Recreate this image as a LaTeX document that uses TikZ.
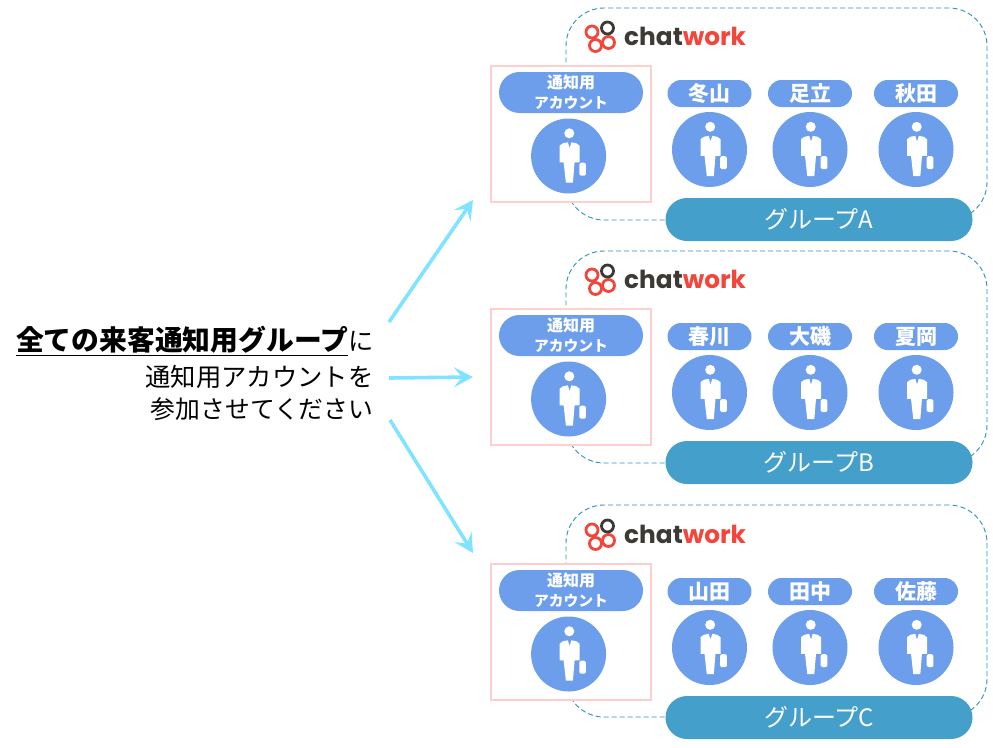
\documentclass[tikz,border=0pt]{standalone}
\usepackage{fontspec}
\newfontfamily\cjk{Noto Sans CJK JP}
\newfontfamily\logofont{Poppins}
\usetikzlibrary{arrows.meta,shapes.misc}
\definecolor{pillblue}{HTML}{6C9EEB}
\definecolor{barblue}{HTML}{449FCA}
\definecolor{dashblue}{HTML}{2F8FC0}
\definecolor{boxpink}{HTML}{FFCFCF}
\definecolor{arrowcyan}{HTML}{80E3FF}
\definecolor{logored}{HTML}{F2463C}
\definecolor{logodark}{HTML}{3D3A35}
\tikzset{
  personfig/.pic = {
    \fill[white] (0.7,-22.7) circle (5);
    \fill[white] (-9,-10.3) -- (-5.7,-12.7) -- (-0.7,-13.7) -- (1,-7.7) -- (2.7,-13.7) -- (7.7,-12.7) -- (11,-10.3) -- (11,6.3) -- (6,6.3) -- (4.3,26.7) -- (-2.7,26.7) -- (-5,6.3) -- (-9,6.3) -- cycle;
    \fill[white, rounded corners=1.5] (10.7,6.7) rectangle (17.3,19.7);
  },
  chatworklogo/.pic = {
    \draw[logored, line width=2.8] (-9,-5) circle (6);
    \draw[logored, line width=2.8] (-5.5,8.5) circle (6);
    \draw[logored, line width=2.8] (7.5,5.5) circle (6);
    \draw[logodark, line width=2.8] (6.5,-9) circle (6);
    \node[anchor=west, inner sep=0, font=\logofont\bfseries\fontsize{24.8}{26}\selectfont] (w) at (23,-1) {\textcolor{logodark}{chat}\textcolor{logored}{work}};
  }
}
\begin{document}
\begin{tikzpicture}[x=1pt, y=-1pt,
  frame/.style = {draw=dashblue, dashed, dash pattern=on 5pt off 3pt, line width=0.9pt, rounded corners=38pt, minimum width=421pt, minimum height=212pt, inner sep=0},
  acct/.style = {draw=boxpink, line width=1.2pt, fill=white, minimum width=160pt, minimum height=136pt, inner sep=0},
  pill/.style = {rounded rectangle, fill=pillblue, text=white, inner sep=0, font=\cjk\bfseries\fontsize{21}{21}\selectfont, minimum width=84pt, minimum height=27pt},
  bigpill/.style = {pill, align=center, font=\cjk\bfseries\fontsize{16}{20}\selectfont, minimum width=144pt, minimum height=41pt},
  person/.style = {circle, fill=pillblue, inner sep=0, minimum size=75pt},
  bar/.style = {rounded rectangle, fill=barblue, text=white, inner sep=0, font=\cjk\fontsize{24}{24}\selectfont, minimum width=307pt, minimum height=43pt},
  msg/.style = {align=right, anchor=east, inner sep=0, font=\cjk\fontsize{25.3}{32}\selectfont},
  link/.style = {draw=arrowcyan, line width=3.6pt, -{Stealth[length=19pt, width=20pt, inset=8pt]}}]
\useasboundingbox (0,0) rectangle (993,747);

% left text
\node[msg] (msg) at (373.5,373.5) {\underline{\bfseries\fontsize{27.8}{32}\selectfont 全ての来客通知用グループ}に\\[4pt]通知用アカウントを\\{\fontsize{24.8}{32}\selectfont 参加させてください}};

% group A
\node[frame] (fa) at (776.5,114) {};
\node[acct] (ba) at (571,134) {};
\node[bigpill] (ha) at (571,92.5) {通知用\\{\fontsize{14.8}{20}\selectfont アカウント}};
\node[person] (ua) at (568.6,156) {};
\pic at (ua) {personfig};
\pic at (601,37) {chatworklogo};
\node[pill] (a1) at (709.5,93.5) {冬山};
\node[pill, right of=a1, node distance=100.5pt] (a2) {足立};
\node[pill, right of=a2, node distance=106pt] (a3) {秋田};
\node[person, below of=a1, node distance=56pt] (pa1) {};
\node[person, below of=a2, node distance=56pt] (pa2) {};
\node[person, below of=a3, node distance=56pt] (pa3) {};
\pic at (pa1) {personfig};
\pic at (pa2) {personfig};
\pic at (pa3) {personfig};
\node[bar] (ga) at (819,219.5) {グループA};

% group B
\node[frame] (fb) at (776.5,357) {};
\node[acct] (bb) at (571,377) {};
\node[bigpill] (hb) at (571,335.5) {通知用\\{\fontsize{14.8}{20}\selectfont アカウント}};
\node[person] (ub) at (568.6,399) {};
\pic at (ub) {personfig};
\pic at (601,280) {chatworklogo};
\node[pill] (b1) at (709.5,336.5) {春川};
\node[pill, right of=b1, node distance=100.5pt] (b2) {大磯};
\node[pill, right of=b2, node distance=106pt] (b3) {夏岡};
\node[person, below of=b1, node distance=56pt] (pb1) {};
\node[person, below of=b2, node distance=56pt] (pb2) {};
\node[person, below of=b3, node distance=56pt] (pb3) {};
\pic at (pb1) {personfig};
\pic at (pb2) {personfig};
\pic at (pb3) {personfig};
\node[bar] (gb) at (819,462.5) {グループB};

% group C
\node[frame] (fc) at (776.5,611) {};
\node[acct] (bc) at (571,632) {};
\node[bigpill] (hc) at (571,590.5) {通知用\\{\fontsize{14.8}{20}\selectfont アカウント}};
\node[person] (uc) at (568.6,654) {};
\pic at (uc) {personfig};
\pic at (601,535) {chatworklogo};
\node[pill] (c1) at (709.5,591.5) {山田};
\node[pill, right of=c1, node distance=100.5pt] (c2) {田中};
\node[pill, right of=c2, node distance=106pt] (c3) {佐藤};
\node[person, below of=c1, node distance=56pt] (pc1) {};
\node[person, below of=c2, node distance=56pt] (pc2) {};
\node[person, below of=c3, node distance=56pt] (pc3) {};
\pic at (pc1) {personfig};
\pic at (pc2) {personfig};
\pic at (pc3) {personfig};
\node[bar] (gc) at (819,717.5) {グループC};

% arrows
\coordinate (s1) at (389,322);
\coordinate (s2) at (389,378);
\coordinate (s3) at (390,420);
\coordinate (t1) at (473,200);
\coordinate (t2) at (473,377);
\coordinate (t3) at (473,553);
\draw[link] (s1) -- (t1);
\draw[link] (s2) -- (t2);
\draw[link] (s3) -- (t3);
\end{tikzpicture}
\end{document}
